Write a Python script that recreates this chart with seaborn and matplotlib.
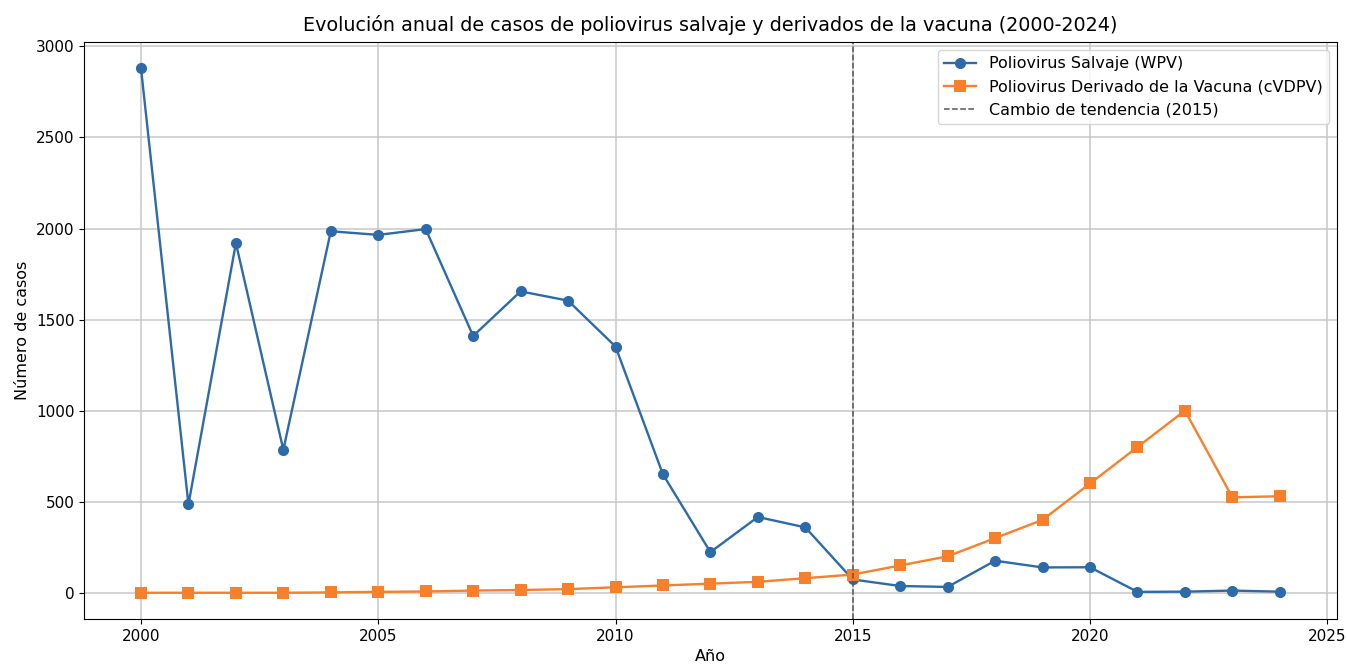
import pandas as pd
import matplotlib
matplotlib.use("Agg")
import matplotlib.pyplot as plt
import seaborn as sns

# Datos
anios = list(range(2000, 2025))
casos_wpv = [2880, 485, 1920, 785, 1985, 1965, 1997, 1410, 1655, 1604, 1352,
             650, 223, 416, 359, 73, 37, 32, 176, 139, 140, 5, 6, 12, 6]
casos_cvdpv = [0, 0, 0, 0, 2, 5, 7, 12, 15, 20, 30, 40, 50, 60, 80, 100,
               150, 200, 300, 400, 600, 800, 1000, 524, 530]

df = pd.DataFrame({'Año': anios, 'WPV': casos_wpv, 'cVDPV': casos_cvdpv})

fig = plt.figure(figsize=(13.47, 6.64), dpi=100)
ax = fig.add_axes([0.0624, 0.0678, 0.9300, 0.8689])

sns.lineplot(data=df, x='Año', y='WPV', marker='o', markersize=8,
             markeredgewidth=0, color='#2d6aa8', linewidth=1.7,
             label='Poliovirus Salvaje (WPV)', ax=ax)
sns.lineplot(data=df, x='Año', y='cVDPV', marker='s', markersize=8,
             markeredgewidth=0, color='#f8802a', linewidth=1.7,
             label='Poliovirus Derivado de la Vacuna (cVDPV)', ax=ax)
ax.axvline(2015, color='#555555', linestyle='--', linewidth=1.1,
           label='Cambio de tendencia (2015)')

ax.set_title('Evolución anual de casos de poliovirus salvaje y derivados de la vacuna (2000-2024)',
             fontsize=13.8, pad=8)
ax.set_xlabel('Año', fontsize=11.5)
ax.set_ylabel('Número de casos', fontsize=11.5)
ax.tick_params(labelsize=11)
ax.grid(True, color='#c8c8c8', linewidth=1.1)
ax.legend(loc='upper right', fontsize=11.5)

plt.savefig('out.png', dpi=100)
